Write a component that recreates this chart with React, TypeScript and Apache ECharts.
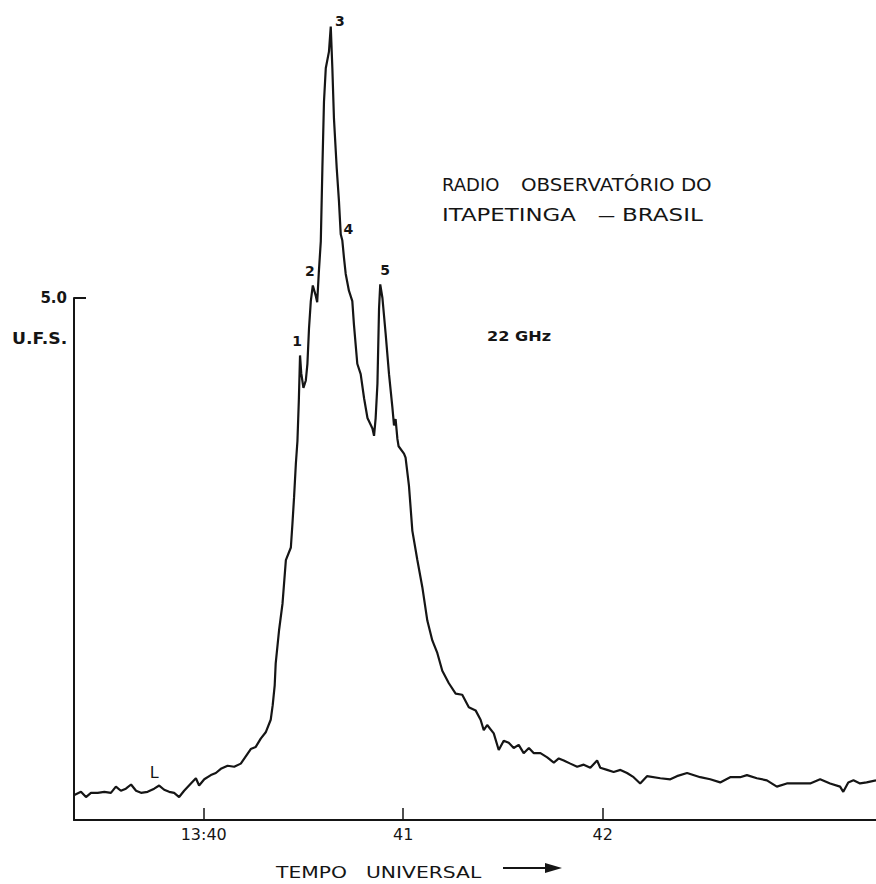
import React, { useEffect, useRef } from "react";
import * as echarts from "echarts";

// Universal time, in minutes after 13:00
const timeMin = [
  39.352, 39.385, 39.41, 39.435, 39.469, 39.502, 39.535, 39.56, 39.585, 39.61,
  39.636, 39.661, 39.686, 39.719, 39.752, 39.777, 39.802, 39.827, 39.852, 39.877,
  39.902, 39.936, 39.961, 39.977, 40.003, 40.036, 40.061, 40.086, 40.12, 40.153,
  40.186, 40.211, 40.236, 40.261, 40.286, 40.311, 40.336, 40.346, 40.356, 40.361,
  40.378, 40.395, 40.412, 40.437, 40.445, 40.453, 40.462, 40.47, 40.477, 40.483,
  40.489, 40.5, 40.512, 40.52, 40.528, 40.537, 40.547, 40.562, 40.569, 40.577,
  40.587, 40.595, 40.603, 40.612, 40.628, 40.637, 40.645, 40.653, 40.667, 40.678,
  40.687, 40.695, 40.699, 40.703, 40.712, 40.728, 40.745, 40.753, 40.77, 40.787,
  40.804, 40.821, 40.846, 40.854, 40.862, 40.871, 40.879, 40.885, 40.896, 40.912,
  40.929, 40.946, 40.954, 40.962, 40.971, 40.977, 41.004, 41.012, 41.029, 41.046,
  41.071, 41.096, 41.121, 41.146, 41.171, 41.196, 41.229, 41.263, 41.296, 41.329,
  41.363, 41.388, 41.404, 41.421, 41.454, 41.479, 41.504, 41.529, 41.554, 41.579,
  41.604, 41.63, 41.655, 41.688, 41.722, 41.755, 41.78, 41.805, 41.838, 41.872,
  41.905, 41.938, 41.972, 41.988, 42.022, 42.055, 42.089, 42.122, 42.155, 42.188,
  42.222, 42.289, 42.339, 42.372, 42.423, 42.489, 42.539, 42.589, 42.639, 42.689,
  42.723, 42.773, 42.823, 42.873, 42.923, 42.99, 43.04, 43.09, 43.14, 43.19,
  43.206, 43.231, 43.257, 43.29, 43.323, 43.37,
];

// Flux density at 22 GHz (U.F.S.)
const flux = [
  0.24, 0.27, 0.22, 0.26, 0.26, 0.27, 0.26, 0.32, 0.28, 0.3,
  0.34, 0.28, 0.26, 0.27, 0.3, 0.33, 0.29, 0.27, 0.26, 0.22,
  0.28, 0.35, 0.4, 0.33, 0.39, 0.43, 0.45, 0.49, 0.52, 0.51,
  0.54, 0.61, 0.68, 0.7, 0.78, 0.84, 0.96, 1.1, 1.29, 1.5,
  1.82, 2.07, 2.49, 2.61, 2.84, 3.09, 3.41, 3.63, 4.02, 4.45,
  4.28, 4.14, 4.21, 4.37, 4.71, 4.97, 5.12, 5.02, 4.96, 5.24,
  5.54, 6.24, 6.88, 7.2, 7.36, 7.6, 7.2, 6.72, 6.24, 5.93,
  5.61, 5.55, 5.47, 5.39, 5.23, 5.07, 4.97, 4.75, 4.37, 4.27,
  4.04, 3.85, 3.75, 3.68, 3.85, 4.18, 4.9, 5.13, 5.0, 4.66,
  4.27, 3.95, 3.78, 3.84, 3.65, 3.58, 3.51, 3.47, 3.2, 2.77,
  2.49, 2.23, 1.91, 1.72, 1.6, 1.43, 1.31, 1.21, 1.2, 1.08,
  1.05, 0.96, 0.86, 0.91, 0.83, 0.67, 0.76, 0.74, 0.69, 0.72,
  0.64, 0.69, 0.64, 0.64, 0.6, 0.55, 0.59, 0.57, 0.54, 0.51,
  0.53, 0.5, 0.57, 0.5, 0.48, 0.46, 0.48, 0.45, 0.41, 0.35,
  0.42, 0.4, 0.39, 0.42, 0.45, 0.41, 0.39, 0.36, 0.41, 0.41,
  0.43, 0.4, 0.38, 0.32, 0.35, 0.35, 0.35, 0.39, 0.35, 0.32,
  0.27, 0.36, 0.38, 0.35, 0.36, 0.38,
];

// Marked features of the burst: label and the sample it points at
const featureNames = ["L", "1", "2", "3", "4", "5"];
const featureSamples = [14, 49, 56, 65, 71, 87];

const xTicks = [40, 41, 42];
const xTickLabels = ["13:40", "41", "42"];
const yTicks = [5];
const yTickLabels = ["5.0"];

const INK = "#151515";
const FONT = '"DejaVu Sans", "Liberation Sans", sans-serif';

// label placement relative to each marked sample (px)
const featureOffsets: Record<string, [number, number]> = {
  L: [0, -16],
  "1": [-3, -14],
  "2": [-3, -14],
  "3": [9, -6],
  "4": [6, -12],
  "5": [5, -14],
};

type Caption = { text: string; x: number; y: number; sx: number; font: string };

const captions: Caption[] = [
  { text: "U.F.S.", x: 12, y: 339, sx: 1.15, font: `bold 15px ${FONT}` },
  { text: "RADIO", x: 442, y: 184, sx: 1.0, font: `18px ${FONT}` },
  { text: "OBSERVATÓRIO DO", x: 521, y: 184, sx: 1.1, font: `18px ${FONT}` },
  { text: "ITAPETINGA", x: 442, y: 215, sx: 1.27, font: `18px ${FONT}` },
  { text: "—", x: 598, y: 215, sx: 0.95, font: `18px ${FONT}` },
  { text: "BRASIL", x: 622, y: 215, sx: 1.28, font: `18px ${FONT}` },
  { text: "22 GHz", x: 487, y: 336, sx: 1.15, font: `bold 14px ${FONT}` },
  { text: "TEMPO", x: 276, y: 872, sx: 1.27, font: `16px ${FONT}` },
  { text: "UNIVERSAL", x: 366, y: 872, sx: 1.27, font: `16px ${FONT}` },
];

export default function App() {
  const ref = useRef<HTMLDivElement>(null);

  useEffect(() => {
    if (!ref.current) return;
    const chart = echarts.init(ref.current, null, { renderer: "svg" });

    const seriesData = timeMin.map((t, i) => [t, flux[i]]);

    const staticGraphics: any[] = [
      ...captions.map((c, k) => ({
        id: `cap${k}`,
        type: "text",
        x: c.x,
        y: c.y,
        scaleX: c.sx,
        scaleY: 1,
        style: {
          text: c.text,
          fill: INK,
          font: c.font,
          textVerticalAlign: "middle",
        },
      })),
      {
        id: "arrowShaft",
        type: "line",
        shape: { x1: 503, y1: 868, x2: 548, y2: 868 },
        style: { stroke: INK, lineWidth: 2 },
      },
      {
        id: "arrowHead",
        type: "polygon",
        shape: { points: [[545, 863], [562, 868], [545, 873]] },
        style: { fill: INK },
      },
    ];

    const option: echarts.EChartsOption = {
      animation: false,
      backgroundColor: "#ffffff",
      grid: { left: 74, right: 0, top: 298, bottom: 64 },
      xAxis: {
        type: "value",
        min: 39.35,
        max: 43.37,
        axisLine: { show: true, lineStyle: { color: INK, width: 2 } },
        axisTick: {
          show: true,
          inside: true,
          length: 12,
          customValues: xTicks,
          lineStyle: { color: INK, width: 1.5 },
        },
        axisLabel: {
          customValues: xTicks,
          formatter: (v: number) => xTickLabels[xTicks.indexOf(Math.round(v))] ?? "",
          color: INK,
          fontSize: 16,
          fontFamily: FONT,
          margin: 6,
        },
        splitLine: { show: false },
      },
      yAxis: {
        type: "value",
        min: 0,
        max: 5,
        axisLine: { show: true, lineStyle: { color: INK, width: 2 } },
        axisTick: {
          show: true,
          inside: true,
          length: 12,
          customValues: yTicks,
          lineStyle: { color: INK, width: 2 },
        },
        axisLabel: {
          customValues: yTicks,
          formatter: (v: number) => yTickLabels[yTicks.indexOf(v)] ?? "",
          color: INK,
          fontSize: 15,
          fontWeight: "bold",
          fontFamily: FONT,
          margin: 7,
        },
        splitLine: { show: false },
      },
      series: [
        {
          type: "line",
          data: seriesData,
          showSymbol: false,
          clip: false,
          lineStyle: { color: INK, width: 2.2 },
        },
      ],
      graphic: staticGraphics,
    };

    chart.setOption(option);

    // feature markers follow the trace through the grid's own scales
    const featureGraphics = featureNames.map((name, k) => {
      const i = featureSamples[k];
      const [px, py] = chart.convertToPixel({ gridIndex: 0 }, [timeMin[i], flux[i]]) as number[];
      const [dx, dy] = featureOffsets[name];
      return {
        id: `feature${k}`,
        type: "text",
        x: px + dx,
        y: py + dy,
        style: {
          text: name,
          fill: INK,
          font: name === "L" ? `16px ${FONT}` : `bold 14px ${FONT}`,
          textAlign: "center",
          textVerticalAlign: "middle",
        },
      };
    });

    chart.setOption({ graphic: [...staticGraphics, ...featureGraphics] });

    return () => chart.dispose();
  }, []);

  return (
    <div
      ref={ref}
      style={{ position: "fixed", left: 0, top: 0, width: 876, height: 884, background: "#fff" }}
    />
  );
}
